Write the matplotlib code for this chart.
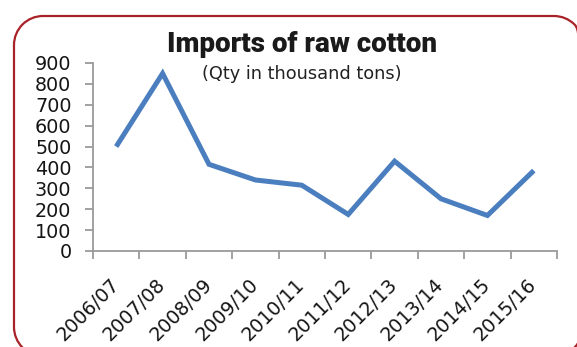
import matplotlib
matplotlib.use("Agg")
import matplotlib.pyplot as plt
from matplotlib.path import Path
from matplotlib.patches import PathPatch
from matplotlib.transforms import Affine2D

seasons = ["2006/07", "2007/08", "2008/09", "2009/10", "2010/11",
           "2011/12", "2012/13", "2013/14", "2014/15", "2015/16"]
imports = [500, 850, 415, 340, 315, 175, 430, 250, 170, 385]
y_ticks = [0, 100, 200, 300, 400, 500, 600, 700, 800, 900]

W, H = 577, 347
fig = plt.figure(figsize=(W / 100, H / 100), dpi=100)
fig.patch.set_facecolor("white")


def rounded_rect(x0, y0, x1, y1, r):
    """Closed rounded-rectangle path built from circular arcs (y measured up)."""
    corners = [((x1 - r, y0 + r), 270, 360), ((x1 - r, y1 - r), 0, 90),
               ((x0 + r, y1 - r), 90, 180), ((x0 + r, y0 + r), 180, 270)]
    verts, codes = [], []
    for (cx, cy), a0, a1 in corners:
        arc = Path.arc(a0, a1).transformed(Affine2D().scale(r).translate(cx, cy))
        v = list(arc.vertices)
        c = list(arc.codes)
        c[0] = Path.MOVETO if not verts else Path.LINETO
        verts += v
        codes += c
    verts.append(verts[0])
    codes.append(Path.CLOSEPOLY)
    return Path(verts, codes)


# Rounded frame drawn in pixel units on a full-figure overlay
frame = fig.add_axes([0, 0, 1, 1], zorder=0)
frame.set_xlim(0, W)
frame.set_ylim(0, H)
frame.axis("off")
frame.add_patch(PathPatch(rounded_rect(14, H - 356, 583, H - 16, 29),
                          fill=False, edgecolor="#a82228", linewidth=1.6,
                          clip_on=False))

ax = fig.add_axes([93 / W, 1 - 251 / H, (557 - 93) / W, (251 - 63) / H], zorder=1)
ax.patch.set_alpha(0)

x = list(range(len(seasons)))
ax.plot(x, imports, color="#4a7ebf", linewidth=3.6, solid_joinstyle="miter",
        solid_capstyle="butt")

ax.set_xlim(-0.5, len(seasons) - 0.5)
ax.set_ylim(0, 900)
ax.set_yticks(y_ticks)
ax.set_yticklabels([str(v) for v in y_ticks])
ax.set_xticks([i - 0.5 for i in range(len(seasons) + 1)])
ax.set_xticklabels([])
ax.set_xticks(x, minor=True)
ax.set_xticklabels(seasons, minor=True, rotation=45, ha="right", va="center",
                   rotation_mode="anchor")

for side in ("top", "right"):
    ax.spines[side].set_visible(False)
for side in ("left", "bottom"):
    ax.spines[side].set_color("#9a9a9a")
    ax.spines[side].set_linewidth(1.3)

ax.tick_params(axis="y", which="major", direction="out", length=6, width=1.3,
               color="#9a9a9a", labelsize=13.8, labelcolor="#151515", pad=9.5)
ax.tick_params(axis="x", which="major", direction="out", length=6, width=1.3,
               color="#9a9a9a")
ax.tick_params(axis="x", which="minor", length=0, labelsize=13.8,
               labelcolor="#151515", pad=22)
for lbl in ax.get_yticklabels() + ax.get_xticklabels(minor=True):
    lbl.set_fontfamily("DejaVu Sans")
    lbl.set_fontweight("medium")

fig.text(302 / W, 1 - 44 / H, "Imports of raw cotton", ha="center", va="center",
         fontsize=20, fontweight=900, family=["Roboto", "DejaVu Sans"],
         color="#1a1a1a", zorder=3)
fig.text(302 / W, 1 - 74 / H, "(Qty in thousand tons)", ha="center", va="center",
         fontsize=12.8, family="DejaVu Sans", color="#222222", zorder=3)

fig.savefig("out.png", dpi=100, facecolor="white")
